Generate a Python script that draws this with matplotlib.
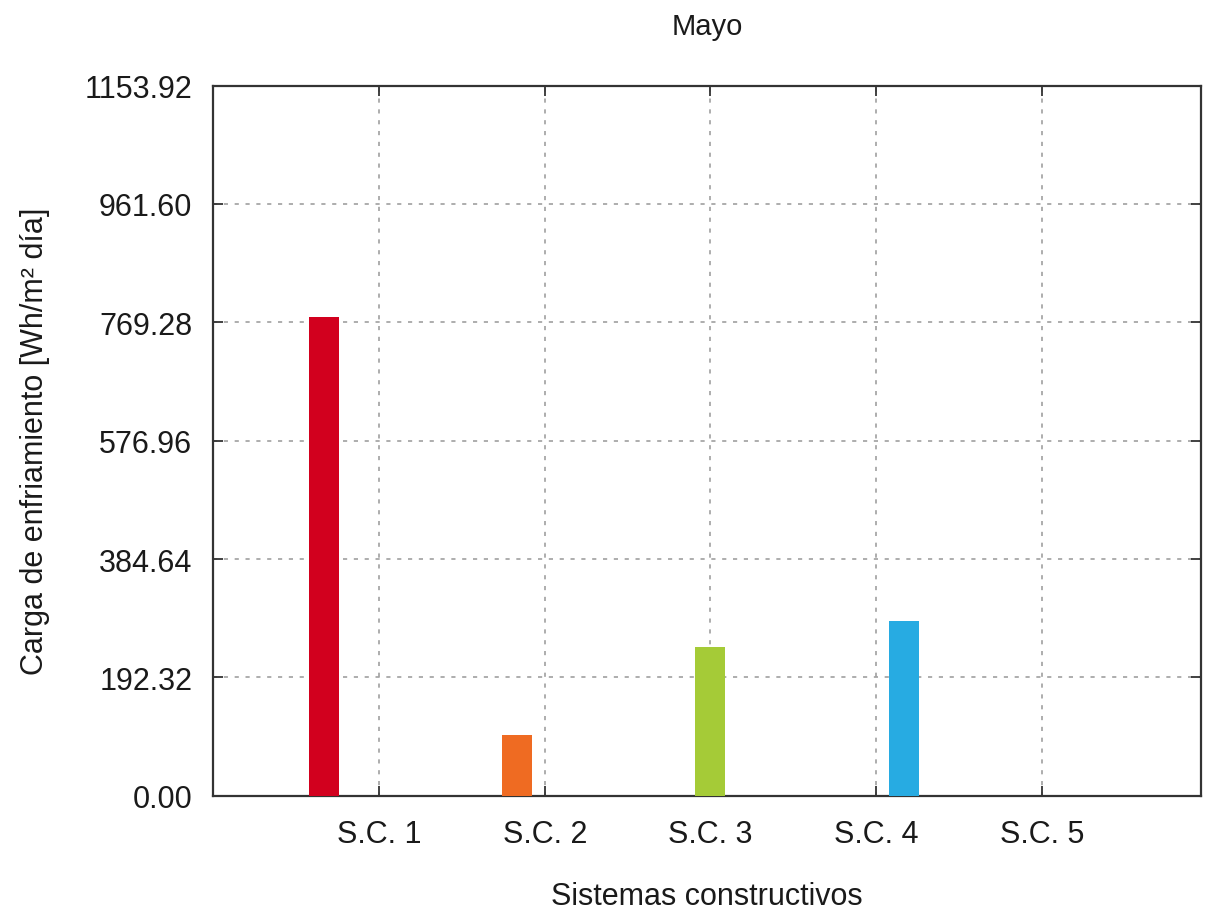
import matplotlib
matplotlib.use('Agg')
import matplotlib.pyplot as plt
import numpy as np

# datos
categorias = ['S.C. 1', 'S.C. 2', 'S.C. 3', 'S.C. 4', 'S.C. 5']
valores = [778.4, 99.1, 241.2, 283.9, 0.0]
colores = ['#d2001e', '#ef6b22', '#a5cb37', '#27abe2', '#7f3f98']
yticks = [0.00, 192.32, 384.64, 576.96, 769.28, 961.60, 1153.92]

plt.rcParams['font.family'] = ['Liberation Sans', 'DejaVu Sans']

fig = plt.figure(figsize=(12.05, 9.12), dpi=100)
ax = fig.add_axes([0.177, 0.1264, 0.8197, 0.7786])

n = len(categorias)
x = np.arange(1, n + 1)
offsets = (np.arange(n) - 2) * 0.167
for i in range(n):
    if valores[i] > 0:
        ax.bar(x[i] + offsets[i], valores[i], width=0.181, color=colores[i],
               zorder=3, linewidth=0)

ax.set_xlim(0, 5.96)
ax.set_ylim(0, 1153.92)
ax.set_xticks(x)
ax.set_xticklabels(categorias)
ax.set_yticks(yticks)
ax.set_yticklabels([f'{v:.2f}' for v in yticks])

ax.grid(True, color='#a0a0a0', linestyle=(0, (2.5, 4)), linewidth=1.2, zorder=0)
ax.tick_params(direction='in', length=7, width=1.3, labelsize=22,
               top=True, right=True, colors='#333333', labelcolor='#1a1a1a')
ax.tick_params(axis='x', pad=17)
ax.tick_params(axis='y', pad=15)
for s in ax.spines.values():
    s.set_linewidth(1.6)
    s.set_color('#333333')

ax.set_title('Mayo', fontsize=21, pad=37, color='#1a1a1a')
ax.set_xlabel('Sistemas constructivos', fontsize=22, labelpad=23, color='#1a1a1a')
ax.set_ylabel('Carga de enfriamiento [Wh/m² día]', fontsize=22, labelpad=25, color='#1a1a1a')

fig.savefig('out.png', dpi=100)
plt.close(fig)
